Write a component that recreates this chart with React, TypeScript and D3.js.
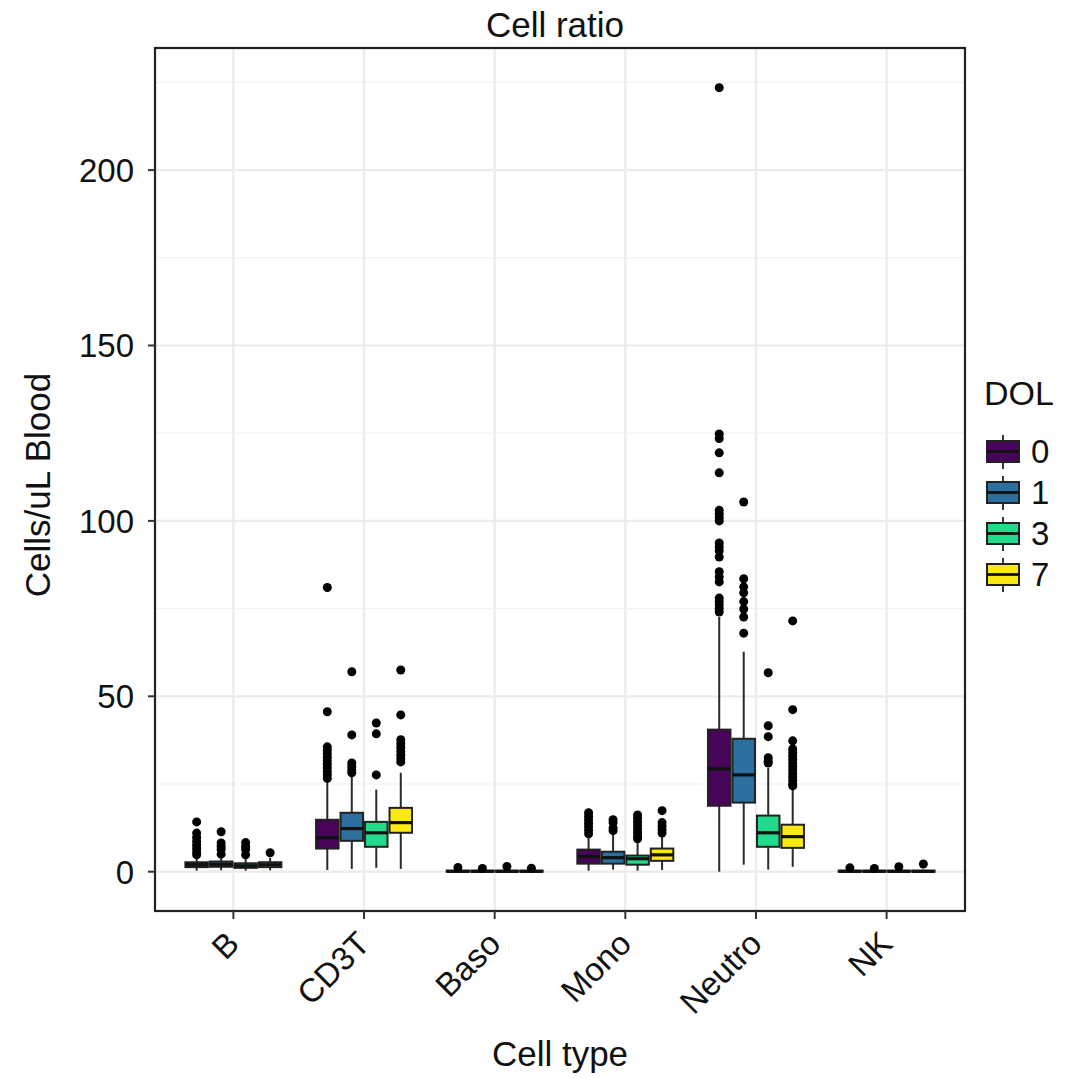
import React from 'react';
import * as d3 from 'd3';

// chart values
const cellTypes = ['B', 'CD3T', 'Baso', 'Mono', 'Neutro', 'NK'];
const dolLevels = ['0', '1', '3', '7'];
const dolColors = ['#48035a', '#2d6f9f', '#22da8b', '#fbe915'];
const yTicks = [0, 50, 100, 150, 200];
const yMinor = [25, 75, 125, 175, 225];

// [cellType][dol]
const whiskerLo = [
  [0.3, 0.4, 0.3, 0.4],
  [0.5, 0.8, 1.1, 0.8],
  [0, 0, 0, 0],
  [0.3, 0.6, 0.3, 0.5],
  [0, 2, 0.6, 1.4],
  [0, 0, 0, 0],
];
const q1 = [
  [1.3, 1.4, 1.1, 1.3],
  [6.6, 8.8, 7.1, 11.1],
  [0, 0, 0, 0],
  [2.3, 2.3, 2, 3.1],
  [18.8, 19.7, 7.1, 6.8],
  [0, 0, 0, 0],
];
const median = [
  [2, 2.1, 1.7, 2],
  [9.7, 12.3, 11.1, 14],
  [0.1, 0.1, 0.1, 0.1],
  [4.3, 4, 3.7, 4.8],
  [29.3, 27.6, 11.1, 10],
  [0.1, 0.1, 0.1, 0.1],
];
const q3 = [
  [2.7, 2.9, 2.4, 2.7],
  [14.8, 16.8, 14.2, 18.2],
  [0.3, 0.3, 0.3, 0.3],
  [6.3, 5.7, 4.6, 6.6],
  [40.5, 37.9, 16, 13.4],
  [0.3, 0.3, 0.3, 0.3],
];
const whiskerHi = [
  [4, 4.3, 3.6, 4],
  [25.6, 27.6, 23.4, 28.2],
  [0.6, 0.6, 0.6, 0.6],
  [10.5, 11.1, 9.1, 10],
  [72.6, 62.7, 29.6, 24.2],
  [0.6, 0.6, 0.6, 0.6],
];
const outliers = [
  [
    [14.2, 11, 9.8, 8.7, 7.6, 6.6, 5.6, 4.8],
    [11.4, 8.2, 7.2, 6.3, 5],
    [8.3, 7.2, 6.3, 4.8],
    [5.4],
  ],
  [
    [81, 45.6, 35.6, 34.6, 33.6, 32.6, 31.6, 30.6, 29.6, 28.6, 27.6, 26.6],
    [57, 39, 31, 30, 29, 28.2],
    [42.4, 39.3, 27.6],
    [57.5, 44.7, 37.6, 36.5, 35.4, 34.3, 33.2, 32.2, 31.3],
  ],
  [[1.2], [0.9], [1.5], [1]],
  [
    [16.8, 15.8, 14.8, 13.8, 12.8, 11.8, 10.8],
    [14.8, 14, 12.5, 11.7],
    [16.2, 15.2, 14.2, 13.2, 12.2, 11.2, 10.2, 9.4],
    [17.4, 14, 13, 12, 11],
  ],
  [
    [223.5, 124.8, 123.5, 119.4, 113.7, 103, 102, 101, 100, 93.7, 92.6, 91.5, 89.7, 85.5, 84, 82.6, 78, 77, 76, 75, 74],
    [105.4, 83.5, 81.2, 79.5, 77, 74.9, 72.6, 68],
    [56.7, 41.6, 38.5, 32.5, 31.5, 31],
    [71.5, 46.2, 37.3, 35, 34, 33, 32, 31, 30, 29, 28, 27, 26, 25, 24.5],
  ],
  [[1.1], [0.9], [1.4], [2.2]],
];

const W = 1066;
const H = 1078;
const panel = { left: 155, right: 965, top: 48, bottom: 911 };
const font = '"Liberation Sans", Arial, sans-serif';

export default function App() {
  const y = d3.scaleLinear().domain([-11.2, 234.8]).range([panel.bottom, panel.top]);
  // ggplot style discrete axis: 0.6 unit expansion on each side
  const x = d3
    .scalePoint()
    .domain(cellTypes)
    .range([panel.left, panel.right])
    .padding(0.6);
  const unit = x.step();
  const cx = (c: string) => x(c) as number;
  const dodge = d3
    .scaleBand()
    .domain(dolLevels)
    .range([-0.375 * unit, 0.375 * unit]);
  const bw = dodge.bandwidth();

  return (
    <svg
      width={W}
      height={H}
      style={{ display: 'block', position: 'absolute', left: 0, top: 0, fontFamily: font }}
    >
      <rect x={0} y={0} width={W} height={H} fill="#fff" />
      {/* grid */}
      {yMinor.map((t) => (
        <line key={'m' + t} x1={panel.left} x2={panel.right} y1={y(t)} y2={y(t)} stroke="#f2f2f2" strokeWidth={1.2} />
      ))}
      {yTicks.map((t) => (
        <line key={'g' + t} x1={panel.left} x2={panel.right} y1={y(t)} y2={y(t)} stroke="#ebebeb" strokeWidth={2.2} />
      ))}
      {cellTypes.map((c) => (
        <line key={'v' + c} x1={cx(c)} x2={cx(c)} y1={panel.top} y2={panel.bottom} stroke="#ebebeb" strokeWidth={2.2} />
      ))}

      {/* boxes */}
      {cellTypes.map((c, ci) =>
        dolLevels.map((d, di) => {
          const left = cx(c) + (dodge(d) as number);
          const mid = left + bw / 2;
          const bl = left + 1;
          const br = left + bw - 1;
          return (
            <g key={c + d}>
              <line x1={mid} x2={mid} y1={y(whiskerLo[ci][di])} y2={y(whiskerHi[ci][di])} stroke="#2a2a2a" strokeWidth={2} />
              <rect
                x={bl}
                y={y(q3[ci][di])}
                width={br - bl}
                height={Math.max(y(q1[ci][di]) - y(q3[ci][di]), 1)}
                fill={dolColors[di]}
                stroke="#222"
                strokeWidth={2}
              />
              <line x1={bl} x2={br} y1={y(median[ci][di])} y2={y(median[ci][di])} stroke="#111" strokeWidth={3.2} />
              {outliers[ci][di].map((v, k) => (
                <circle key={k} cx={mid} cy={y(v)} r={4.5} fill="#000" />
              ))}
            </g>
          );
        })
      )}

      {/* panel border */}
      <rect
        x={panel.left}
        y={panel.top}
        width={panel.right - panel.left}
        height={panel.bottom - panel.top}
        fill="none"
        stroke="#222"
        strokeWidth={2.2}
      />

      {/* y axis */}
      {yTicks.map((t) => (
        <g key={'yt' + t}>
          <line x1={panel.left - 7} x2={panel.left} y1={y(t)} y2={y(t)} stroke="#333" strokeWidth={2} />
          <text x={panel.left - 21} y={y(t)} dy="0.36em" textAnchor="end" fontSize={33} fill="#111">
            {t}
          </text>
        </g>
      ))}
      {/* x axis */}
      {cellTypes.map((c) => (
        <g key={'xt' + c}>
          <line x1={cx(c)} x2={cx(c)} y1={panel.bottom} y2={panel.bottom + 8} stroke="#333" strokeWidth={2} />
          <text
            transform={`translate(${cx(c) - 9},${panel.bottom + 18}) rotate(-45)`}
            dy="0.72em"
            textAnchor="end"
            fontSize={33}
            fill="#111"
          >
            {c}
          </text>
        </g>
      ))}

      {/* titles */}
      <text x={555} y={37} textAnchor="middle" fontSize={35} fill="#111">
        Cell ratio
      </text>
      <text x={560} y={1066} textAnchor="middle" fontSize={35} fill="#111">
        Cell type
      </text>
      <text
        transform={`translate(50,485) rotate(-90)`}
        textAnchor="middle"
        fontSize={35}
        fill="#111"
      >
        Cells/uL Blood
      </text>

      {/* legend */}
      <text x={984} y={405} fontSize={34} fill="#111">
        DOL
      </text>
      {dolLevels.map((d, i) => {
        const top = 441 + i * 41;
        return (
          <g key={'lg' + d}>
            <line x1={1003} x2={1003} y1={top - 6} y2={top + 28} stroke="#222" strokeWidth={1.8} />
            <rect x={987} y={top} width={32} height={21} fill={dolColors[i]} stroke="#222" strokeWidth={2} />
            <line x1={987} x2={1019} y1={top + 10.5} y2={top + 10.5} stroke="#111" strokeWidth={2.8} />
            <text x={1031} y={top + 10.5} dy="0.36em" fontSize={33} fill="#111">
              {d}
            </text>
          </g>
        );
      })}
    </svg>
  );
}
